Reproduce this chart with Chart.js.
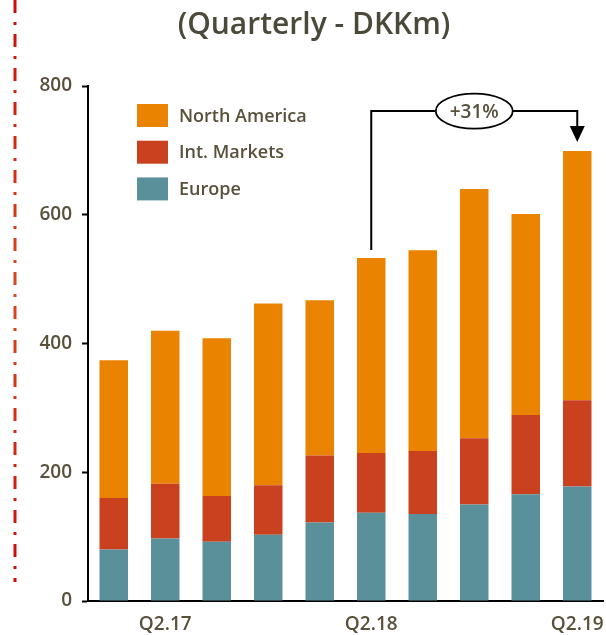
<!DOCTYPE html>
<html>
<head>
<meta charset="utf-8">
<script src="https://cdn.jsdelivr.net/npm/chart.js@4.4.1/dist/chart.umd.min.js"></script>
<style>
  html, body { margin: 0; padding: 0; background: #fff; }
  #wrap { width: 606px; height: 635px; position: relative; }
</style>
</head>
<body>
<div id="wrap"><canvas id="mainChart"></canvas></div>
<script>
// quarters, only the Q2 ones get a tick label
const quarters = ['Q1.17', 'Q2.17', 'Q3.17', 'Q4.17', 'Q1.18', 'Q2.18', 'Q3.18', 'Q4.18', 'Q1.19', 'Q2.19'];
const shownTicks = ['Q2.17', 'Q2.18', 'Q2.19'];

const europe = [80, 97, 92, 103, 122, 137, 135, 150, 166, 178];
const intMarkets = [80, 85, 71, 77, 104, 93, 98, 103, 123, 134];
const northAmerica = [214, 238, 245, 282, 241, 303, 312, 387, 312, 387];

const yTicks = [0, 200, 400, 600, 800];

const txtColor = '#57503a';
const fontFam = "'Open Sans', 'Noto Sans', sans-serif";

const data = {
  labels: quarters,
  datasets: [{
    label: 'Europe',
    backgroundColor: '#5a9099',
    data: europe,
  }, {
    label: 'Int. Markets',
    backgroundColor: '#c9411e',
    data: intMarkets,
  }, {
    label: 'North America',
    backgroundColor: '#e98300',
    data: northAmerica,
  }]
};

function totalAt(i) {
  var s = 0;
  for (var d = 0; d < data.datasets.length; d++) s += data.datasets[d].data[i];
  return s;
}

// red dash-dot rule at the left edge of the slide
const sideRule = {
  id: 'sideRule',
  beforeDraw: function(chart) {
    var ctx = chart.ctx;
    var g = ctx.createLinearGradient(0, 0, 0, 582);
    g.addColorStop(0, '#cc0a0a');
    g.addColorStop(0.5, '#d84a20');
    g.addColorStop(1, '#cc0a0a');
    ctx.save();
    ctx.strokeStyle = g;
    ctx.lineWidth = 3;
    ctx.setLineDash([13, 9, 3, 9]);
    ctx.beginPath();
    ctx.moveTo(15, 0);
    ctx.lineTo(15, 582);
    ctx.stroke();
    ctx.restore();
  }
};

// legend drawn inside the plot, top series first
const innerLegend = {
  id: 'innerLegend',
  afterDraw: function(chart) {
    var ctx = chart.ctx;
    var a = chart.chartArea;
    var x0 = a.left + 49, y0 = a.top + 18;
    ctx.save();
    ctx.font = '600 18px ' + fontFam;
    ctx.textBaseline = 'middle';
    var sets = chart.data.datasets.slice().reverse();
    for (var i = 0; i < sets.length; i++) {
      var y = y0 + i * 36.7;
      ctx.fillStyle = sets[i].backgroundColor;
      ctx.fillRect(x0, y, 31, 23);
      ctx.fillStyle = txtColor;
      ctx.fillText(sets[i].label, x0 + 42, y + 12.5);
    }
    ctx.restore();
  }
};

// growth bracket from Q2.18 to Q2.19
const growthBracket = {
  id: 'growthBracket',
  afterDraw: function(chart) {
    var ctx = chart.ctx;
    var xs = chart.scales.x, ys = chart.scales.y;
    var i0 = 5, i1 = 9;
    var xa = xs.getPixelForValue(i0), xb = xs.getPixelForValue(i1);
    var ya = ys.getPixelForValue(totalAt(i0)) - 8;
    var yb = ys.getPixelForValue(totalAt(i1)) - 9;
    var yTop = ys.getPixelForValue(761);
    var pct = Math.round((totalAt(i1) / totalAt(i0) - 1) * 100);
    ctx.save();
    ctx.strokeStyle = '#000';
    ctx.lineWidth = 2;
    ctx.beginPath();
    ctx.moveTo(xa, ya);
    ctx.lineTo(xa, yTop);
    ctx.lineTo(xb, yTop);
    ctx.lineTo(xb, yb - 14);
    ctx.stroke();
    ctx.fillStyle = '#000';
    ctx.beginPath();
    ctx.moveTo(xb - 7.5, yb - 16);
    ctx.lineTo(xb + 7.5, yb - 16);
    ctx.lineTo(xb, yb);
    ctx.closePath();
    ctx.fill();
    var cx = (xa + xb) / 2;
    ctx.beginPath();
    ctx.ellipse(cx, yTop, 38.5, 17.5, 0, 0, Math.PI * 2);
    ctx.fillStyle = '#fff';
    ctx.fill();
    ctx.lineWidth = 1.8;
    ctx.stroke();
    ctx.fillStyle = txtColor;
    ctx.font = '600 19px ' + fontFam;
    ctx.textAlign = 'center';
    ctx.textBaseline = 'middle';
    ctx.fillText('+' + pct + '%', cx, yTop + 1);
    ctx.restore();
  }
};

const config = {
  type: 'bar',
  data: data,
  plugins: [sideRule, innerLegend, growthBracket],
  options: {
    responsive: true,
    maintainAspectRatio: false,
    animation: false,
    layout: { padding: { left: 25, right: 3, top: 0, bottom: 2 } },
    datasets: { bar: { barPercentage: 0.553, categoryPercentage: 1, borderWidth: 0 } },
    plugins: {
      legend: { display: false },
      tooltip: { enabled: false },
      title: {
        display: true,
        text: '(Quarterly - DKKm)',
        color: '#4b4a3a',
        font: { family: fontFam, size: 30, weight: '600' },
        padding: { top: 7, bottom: 43 }
      }
    },
    scales: {
      x: {
        stacked: true,
        afterFit: function(axis) {
          axis.height = 32;
          // let the last label hang over instead of shrinking the plot
          axis.paddingLeft = 0;
          axis.paddingRight = 0;
        },
        grid: { display: false, drawTicks: false },
        border: { display: true, color: '#000', width: 2 },
        ticks: {
          autoSkip: false,
          maxRotation: 0,
          padding: 12,
          color: txtColor,
          font: { family: fontFam, size: 19, weight: '600' },
          callback: function(v) {
            var l = quarters[v];
            return shownTicks.indexOf(l) >= 0 ? l : '';
          }
        }
      },
      y: {
        stacked: true,
        min: yTicks[0],
        max: yTicks[yTicks.length - 1],
        afterBuildTicks: function(axis) {
          axis.ticks = yTicks.map(function(v) { return { value: v }; });
        },
        afterFit: function(axis) { axis.width = 63; },
        grid: { drawOnChartArea: false, drawTicks: true, tickLength: 6, tickColor: '#000', tickWidth: 2 },
        border: { display: true, color: '#000', width: 2 },
        ticks: {
          padding: 10,
          color: txtColor,
          font: { family: fontFam, size: 19, weight: '600' }
        }
      }
    }
  }
};

const myChart = new Chart(document.getElementById('mainChart'), config);
</script>
</body>
</html>
